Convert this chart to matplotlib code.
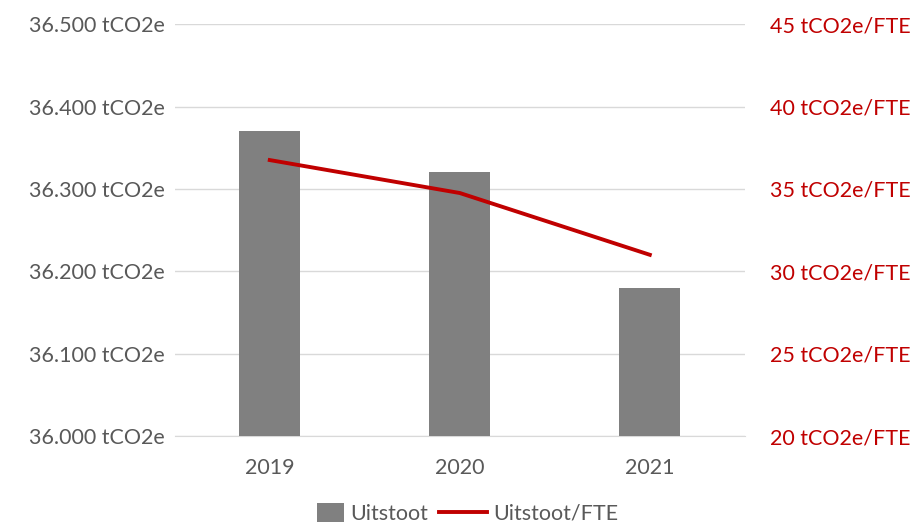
import numpy as np
import matplotlib.pyplot as plt
from matplotlib.ticker import FuncFormatter
from matplotlib.legend_handler import HandlerPatch
from matplotlib.patches import Rectangle

jaren = ['2019', '2020', '2021']
uitstoot = [36370, 36320, 36180]  # tCO2e
uitstoot_fte = [36.75, 34.75, 31.0]  # tCO2e/FTE

grijs = '#808080'
rood = '#C00000'
tekst = '#595959'

plt.rcParams['font.family'] = ['Lato', 'DejaVu Sans']


class VierkantHandler(HandlerPatch):
    # blokje zoals in Excel-legenda
    def create_artists(self, legend, orig_handle, xdescent, ydescent,
                       width, height, fontsize, trans):
        h = height * 1.2
        w = height * 1.8
        r = Rectangle((width - w, (height - h) / 2 - ydescent), w, h,
                      facecolor=orig_handle.get_facecolor(), edgecolor='none',
                      transform=trans)
        return [r]


fig = plt.figure(figsize=(9.15, 5.25), dpi=100)
ax = fig.add_axes([0.191, 0.1695, 0.623, 0.7845])
ax2 = ax.twinx()

x = np.arange(len(jaren))
ax.bar(x, uitstoot, width=0.32, color=grijs, zorder=3)
lijn, = ax2.plot(x, uitstoot_fte, color=rood, linewidth=2.8)

ax.set_xlim(-0.5, 2.5)
ax.set_ylim(36000, 36500)
ax.set_yticks(np.arange(36000, 36501, 100))
ax.yaxis.set_major_formatter(FuncFormatter(
    lambda v, p: f'{v/1000:.3f} tCO2e'))
ax2.set_ylim(20, 45)
ax2.set_yticks(np.arange(20, 46, 5))
ax2.yaxis.set_major_formatter(FuncFormatter(lambda v, p: f'{v:.0f} tCO2e/FTE'))

ax.set_xticks(x)
ax.set_xticklabels(jaren)
ax.grid(axis='y', color='#D9D9D9', linewidth=1, zorder=0)
for a in (ax, ax2):
    for s in a.spines.values():
        s.set_visible(False)
ax.spines['bottom'].set_visible(True)
ax.spines['bottom'].set_color('#D9D9D9')
ax.tick_params(axis='x', length=0, labelsize=15.5, labelcolor=tekst, pad=16)
ax.tick_params(axis='y', length=0, labelsize=15.5, labelcolor=tekst, pad=7)
ax2.tick_params(axis='y', length=0, labelsize=15.5, labelcolor=rood, pad=18)

blok = Rectangle((0, 0), 1, 1, facecolor=grijs)
fig.legend([blok, lijn], ['Uitstoot', 'Uitstoot/FTE'], loc='lower center',
           ncol=2, frameon=False, fontsize=15.5, labelcolor=tekst,
           bbox_to_anchor=(0.5, -0.035), handlelength=2.2,
           columnspacing=0.5, handletextpad=0.3,
           handler_map={Rectangle: VierkantHandler()})

fig.savefig('out.png', dpi=100)
